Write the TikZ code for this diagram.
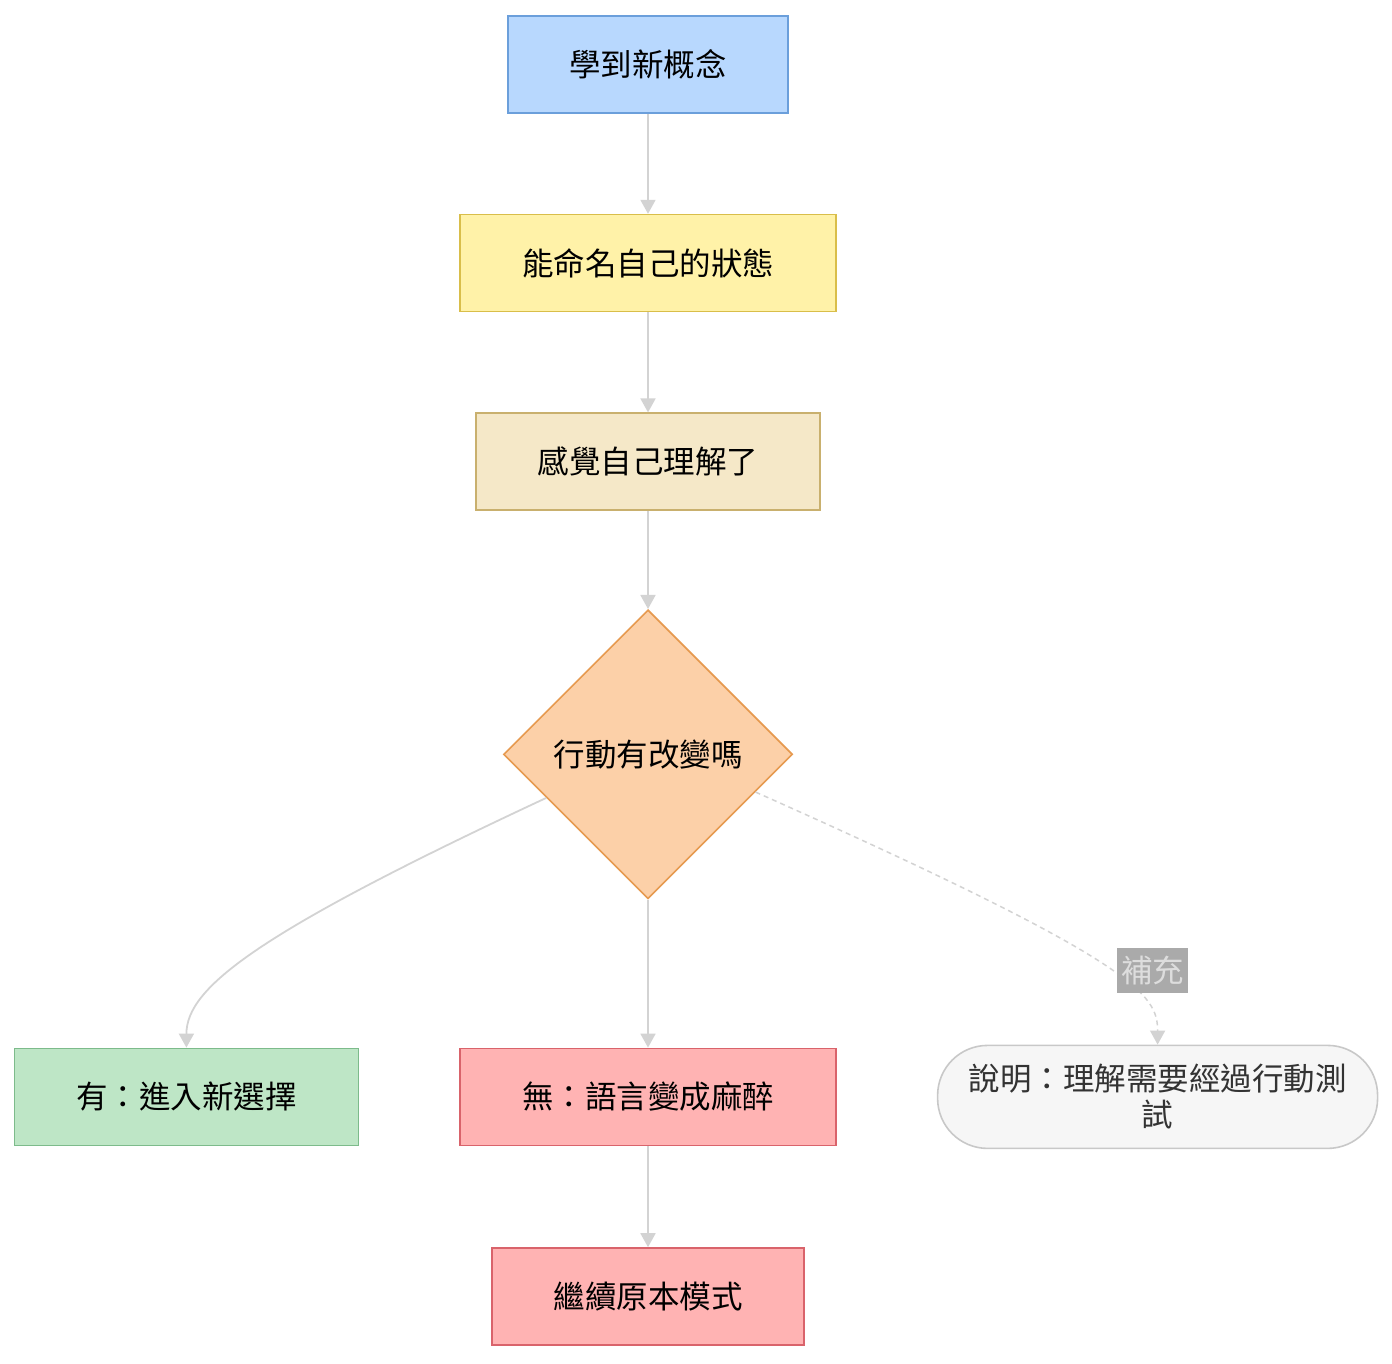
\documentclass[tikz,border=0pt]{standalone}
\usepackage{fontspec}
\usepackage{tikz}
\usetikzlibrary{positioning, arrows.meta, shapes.geometric, calc}
\newfontfamily\cjkfont{Noto Sans CJK TC}
\definecolor{conceptfill}{HTML}{B8D8FE}
\definecolor{conceptline}{HTML}{6B9FDB}
\definecolor{namefill}{HTML}{FFF2A8}
\definecolor{nameline}{HTML}{D9BE4A}
\definecolor{feelfill}{HTML}{F5E8C8}
\definecolor{feelline}{HTML}{C9B06E}
\definecolor{askfill}{HTML}{FCD0A8}
\definecolor{askline}{HTML}{E69A50}
\definecolor{yesfill}{HTML}{BEE6C6}
\definecolor{yesline}{HTML}{7DBB8B}
\definecolor{nofill}{HTML}{FFB3B3}
\definecolor{noline}{HTML}{D9636B}
\definecolor{notefill}{HTML}{F6F6F6}
\definecolor{noteline}{HTML}{C8C8C8}
\definecolor{edgegrey}{HTML}{D3D3D3}
\definecolor{tagfill}{HTML}{AAAAAA}
\definecolor{tagtext}{HTML}{DDDDDD}
\tikzset{
  stepbox/.style={rectangle, line width=1.6pt, align=center, font=\cjkfont\fontsize{31.5}{36}\selectfont, minimum height=97pt, inner sep=6pt},
  concept/.style={stepbox, draw=conceptline, fill=conceptfill},
  naming/.style={stepbox, draw=nameline, fill=namefill},
  feeling/.style={stepbox, draw=feelline, fill=feelfill},
  decision/.style={diamond, aspect=1, draw=askline, fill=askfill, line width=1.6pt, font=\cjkfont\fontsize{31.5}{36}\selectfont, minimum width=289pt, minimum height=289pt, inner sep=0pt},
  yesbox/.style={stepbox, draw=yesline, fill=yesfill},
  nobox/.style={stepbox, draw=noline, fill=nofill},
  note/.style={stepbox, draw=noteline, fill=notefill, text=black!80, rounded corners=50pt, minimum height=103pt},
  link/.style={-{Triangle[length=14pt, width=15pt]}, line width=1.8pt, draw=edgegrey},
  dottedlink/.style={link, line width=1.5pt, dash pattern=on 5pt off 4pt},
  tag/.style={fill=tagfill, text=tagtext, font=\cjkfont\fontsize{31.5}{36}\selectfont, inner xsep=4pt, inner ysep=8pt},
}
\begin{document}
\begin{tikzpicture}[x=1pt, y=1pt, node distance=100pt and 100pt]
  \useasboundingbox (0,0) rectangle (1392,-1364);
  \node[concept, minimum width=280pt] (learn) at (648,-64.5) {學到新概念};
  \node[naming, below=of learn, minimum width=376pt] (name) {能命名自己的狀態};
  \node[feeling, below=of name, minimum width=344pt] (feel) {感覺自己理解了};
  \node[decision, below=98pt of feel] (ask) {行動有改變嗎};
  \node[nobox, below=148pt of ask, minimum width=376pt] (numb) {無：語言變成麻醉};
  \node[yesbox, left=of numb, minimum width=344pt] (choice) {有：進入新選擇};
  \node[note, right=of numb, minimum width=440pt] (remark) {說明：理解需要經過行動測\\試};
  \node[nobox, below=101pt of numb, minimum width=312pt] (keep) {繼續原本模式};

  \draw[link] (learn) -- (name);
  \draw[link] (name) -- (feel);
  \draw[link] (feel) -- (ask);
  \draw[link] ($(ask.west)!0.3!(ask.south)$) .. controls +(205:320) and +(90:60) .. (choice.north);
  \draw[link] (ask) -- (numb);
  \draw[dottedlink] ($(ask.east)!0.26!(ask.south)$) .. controls +(-24:420) and +(90:50) .. (remark.north) node[tag, pos=0.65, xshift=17pt, yshift=22pt] {補充};
  \draw[link] (numb) -- (keep);
\end{tikzpicture}
\end{document}
